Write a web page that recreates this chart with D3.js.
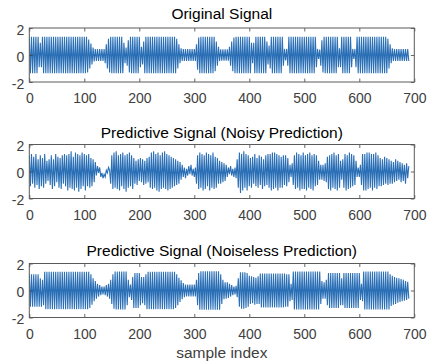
<!DOCTYPE html>
<html>
<head>
<meta charset="utf-8">
<script src="https://cdn.jsdelivr.net/npm/d3@7"></script>
<style>
  body { margin: 0; background: #fff; }
  svg { display: block; font-family: 'Liberation Sans', Arial, Helvetica, sans-serif; }
</style>
</head>
<body>
<div id="chart"></div>
<script>
// Samples are stored every 2nd index (one value per half cycle of the carrier)
const sampleStep = 2;

const xTicks = [0, 100, 200, 300, 400, 500, 600, 700];
const yTicks = [-2, 0, 2];
const panelTitles = ['Original Signal', 'Predictive Signal (Noisy Prediction)', 'Predictive Signal (Noiseless Prediction)'];

const originalSignal = [
  1.35,-1.35,1.35,-1.35,1.35,-1.35,1.35,-1.35,1.35,-0.9,
  0.9,-0.9,1.35,-1.35,1.35,-1.35,1.35,-1.35,1.35,-1.35,
  1.35,-1.35,1.35,-1.35,1.35,-1.35,1.35,-1.35,1.35,-1.35,
  1.35,-1.35,1.35,-1.35,1.35,-1.35,1.35,-1.35,1.35,-1.35,
  1.35,-1.35,1.35,-1.35,1.35,-1.35,1.35,-1.35,1.35,-1.35,
  1.35,-1.35,1.35,-1.3,1.15,-1.0,0.85,-0.7,0.55,-0.48,
  0.45,-0.45,0.45,-0.45,0.45,-0.45,0.45,-0.45,0.45,-0.6,
  0.8,-1.0,1.2,-1.3,1.35,-1.35,1.35,-1.35,1.35,-1.35,
  1.35,-1.35,1.35,-1.35,1.35,-1.35,0.9,-0.6,0.55,-0.8,
  1.1,-1.3,1.35,-1.35,1.35,-1.35,1.35,-1.35,1.35,-1.35,
  1.35,-0.9,0.6,-0.7,1.0,-1.35,1.35,-1.35,1.35,-1.35,
  1.35,-1.35,1.35,-1.35,1.35,-1.35,1.35,-1.35,1.35,-1.35,
  1.35,-1.35,1.35,-1.35,1.35,-1.35,1.35,-1.35,1.35,-1.35,
  1.35,-1.35,1.35,-1.35,1.2,-1.0,0.8,-0.6,0.5,-0.45,
  0.45,-0.45,0.45,-0.45,0.45,-0.45,0.45,-0.45,0.45,-0.45,
  0.45,-0.45,0.8,-1.1,1.3,-1.35,1.35,-1.35,1.35,-1.35,
  1.35,-1.35,1.35,-1.35,1.35,-1.35,1.35,-1.35,1.35,-1.2,
  1.0,-0.8,0.6,-0.45,0.42,-0.42,0.42,-0.42,0.42,-0.42,
  0.42,-0.42,0.6,-0.8,1.0,-1.2,1.3,-1.35,1.35,-1.35,
  1.35,-1.35,1.35,-1.35,1.35,-1.35,1.35,-1.35,1.35,-1.35,
  1.35,-1.35,0.9,-0.6,0.9,-1.35,1.35,-1.35,1.35,-1.35,
  1.35,-1.35,1.35,-1.35,1.35,-1.35,1.0,-0.7,0.7,-1.0,
  1.35,-1.35,1.35,-1.35,1.35,-1.35,1.35,-1.35,1.35,-1.35,
  1.35,-0.8,0.45,-0.4,0.45,-0.8,1.35,-1.35,1.35,-1.35,
  1.35,-1.35,1.35,-1.35,1.35,-1.35,1.35,-1.35,1.35,-1.35,
  1.35,-1.35,1.35,-1.35,1.35,-1.35,1.35,-1.35,1.35,-1.35,
  1.35,-0.9,0.45,-0.3,0.4,-0.8,1.1,-1.3,1.35,-1.35,
  1.35,-1.35,1.35,-1.35,1.35,-1.35,1.35,-1.35,1.35,-1.35,
  1.35,-0.9,0.5,-0.9,1.35,-1.35,1.35,-1.35,1.35,-1.35,
  1.35,-1.35,1.35,-0.9,0.45,-0.3,0.45,-0.9,1.35,-1.35,
  1.35,-1.35,1.35,-1.35,1.35,-1.35,1.35,-1.35,1.35,-1.35,
  1.35,-1.35,1.35,-1.35,1.35,-1.35,1.35,-1.35,1.35,-1.35,
  1.35,-1.35,1.35,-1.35,1.35,-1.35,1.2,-1.0,0.8,-0.6,
  0.5,-0.45,0.45,-0.45,0.45,-0.45,0.45,-0.45,0.45,-0.45,
  0.45,-0.45,0.45,-0.45,0.45,-0.45
];

const noisyPrediction = [
  1.2,-1.1,1.3,-0.9,1.1,-1.2,1.3,-1.0,0.9,-1.3,
  1.2,-1.1,1.0,-1.2,1.3,-0.9,0.8,-0.7,0.9,
  -1.0,1.2,-1.3,0.9,-1.1,1.3,-0.8,1.1,-1.2,1.0,-1.3,1.2,-0.9,1.3,-1.1,
  1.2,-1.4,1.3,-1.2,1.5,-1.3,1.1,-1.4,1.4,-1.2,1.3,-1.5,1.2,-1.3,1.4,-1.1,1.3,-1.4,
  1.2,-1.1,1.3,-1.2,1.0,-1.1,0.9,-0.8,0.7,
  -0.3,0.4,-0.1,0.3,-0.4,-0.1,-0.5,-0.2,-0.4,0.1,-0.1,0.3,0.1,
  -0.9,1.2,-1.3,1.4,-1.2,1.5,-1.3,1.2,-1.4,1.3,-1.1,1.4,-1.3,1.2,-1.5,1.3,-1.2,1.4,-1.1,1.2,-1.3,
  1.0,-0.9,0.8,-1.0,0.9,-0.7,1.0,-0.8,0.9,-1.0,0.8,-0.9,1.0,-0.8,1.1,
  -1.2,1.4,-1.3,1.5,-1.2,1.3,-1.4,1.4,-1.5,1.2,-1.3,1.4,-1.2,1.5,-1.3,1.3,-1.4,1.2,-1.3,1.1,-1.2,
  1.0,-1.1,0.9,-1.0,0.8,-0.9,0.7,-0.6,0.5,
  -0.4,0.3,-0.5,0.2,-0.3,0.4,-0.2,0.5,-0.3,0.2,-0.4,0.3,
  -0.9,1.2,-1.3,1.4,-1.2,1.3,-1.4,1.2,-1.3,1.4,-1.1,1.3,-1.4,1.2,-1.2,1.4,-1.3,1.1,-1.2,1.0,
  -0.9,0.8,-0.9,0.7,-0.8,0.6,-0.7,0.5,
  -0.4,0.3,-0.2,0.4,-0.3,0.2,-0.4,0.3,-0.5,
  0.9,-1.2,1.4,-1.6,1.3,-1.4,1.5,-1.2,1.3,-1.4,1.2,-1.1,
  1.0,-1.2,1.1,-0.9,1.3,-1.1,1.0,-1.2,1.2,-1.0,1.1,-1.3,0.9,-1.1,1.2,-1.0,1.3,-1.2,
  1.3,-1.4,1.4,-1.3,1.4,-1.2,1.3,-1.4,1.2,
  -1.2,1.1,-1.2,1.2,-1.0,1.2,-1.1,1.0,-0.8,
  0.5,-0.4,0.6,
  -1.0,1.2,-1.3,1.4,-1.2,1.3,-1.4,1.2,-1.3,1.4,-1.3,1.2,-1.4,1.3,-1.2,1.4,-1.3,1.2,-1.4,1.3,-1.1,1.2,-1.0,
  0.8,-0.6,0.5,-0.6,0.5,-0.7,0.6,-0.8,
  1.1,-1.3,1.2,-1.4,1.3,-1.2,1.4,-1.3,1.2,-1.4,1.3,-1.2,0.8,-0.6,0.9,-1.2,1.3,-1.4,1.2,-1.3,1.4,-1.2,1.3,-1.1,1.2,-1.0,0.8,
  -0.4,0.3,-0.4,0.5,
  -1.0,1.3,-1.4,1.3,-1.4,1.4,-1.3,1.4,-1.2,1.3,-1.4,1.3,-1.2,1.4,-1.3,1.2,-1.1,
  1.0,-1.1,0.9,-1.0,1.1,-0.9,1.0,-1.0,0.9,
  -0.9,0.8,-0.9,0.7,-0.8,0.9,-0.7,0.8,-0.6,0.7,-0.8,0.6,-0.7,0.5,-0.9,0.6,-0.5,0.4
];

const noiselessPrediction = [
  1.2,-1.2,1.2,-1.2,1.2,-1.2,1.2,-1.2,1.2,-1.2,
  0.9,-1.2,0.8,-1.1,1.38,-1.38,1.38,-1.38,1.38,-1.38,
  1.38,-1.38,1.38,-1.38,1.38,-1.38,1.38,-1.38,1.38,-1.38,
  1.38,-1.38,1.38,-1.38,1.38,-1.38,1.38,-1.38,1.38,-1.38,
  1.38,-1.38,1.38,-1.38,1.38,-1.38,1.38,-1.38,1.38,-1.38,
  1.38,-1.38,1.38,-1.38,1.38,-1.3,1.2,-1.05,0.9,-0.8,
  0.7,-0.6,0.5,-0.45,0.4,-0.35,0.3,-0.3,0.3,-0.35,
  0.4,-0.45,0.5,-0.6,0.8,-1.0,1.2,-1.35,1.4,-1.4,
  1.4,-1.4,1.4,-1.4,1.4,-1.4,1.4,-1.4,1.4,-1.1,
  0.8,-0.5,0.45,-0.7,1.0,-1.3,1.3,-1.3,1.3,-1.3,
  1.3,-1.1,1.0,-0.95,1.0,-1.1,1.2,-1.38,1.38,-1.38,
  1.38,-1.38,1.38,-1.38,1.38,-1.38,1.38,-1.38,1.38,-1.38,
  1.38,-1.38,1.38,-1.38,1.38,-1.38,1.38,-1.38,1.38,-1.38,
  1.38,-1.38,1.38,-1.3,1.2,-1.1,0.95,-0.85,0.75,-0.65,
  0.55,-0.5,0.45,-0.45,0.45,-0.45,0.45,-0.45,0.45,-0.45,
  0.45,-0.45,0.8,-1.1,1.3,-1.42,1.42,-1.42,1.42,-1.42,
  1.42,-1.42,1.42,-1.42,1.42,-1.42,1.42,-1.42,1.42,-1.42,
  1.42,-1.42,1.42,-1.42,1.2,-1.0,0.8,-0.65,0.6,-0.6,
  0.6,-0.55,0.5,-0.45,0.4,-0.35,0.3,-0.3,0.35,-0.5,
  0.9,-1.2,1.35,-1.35,1.35,-1.35,1.35,-1.3,1.3,-1.2,
  1.1,-1.0,1.05,-0.95,1.0,-1.05,0.95,-1.0,1.05,-1.0,
  1.25,-1.25,1.25,-1.25,1.25,-1.25,1.25,-1.25,1.25,-1.25,
  1.25,-1.25,1.25,-1.25,1.25,-1.25,1.25,-1.25,1.25,-1.25,
  1.25,-1.25,1.25,-1.2,1.2,-1.2,1.2,-0.8,0.5,-0.7,
  1.4,-1.4,1.4,-1.4,1.4,-1.4,1.4,-1.4,1.4,-1.4,
  1.4,-1.4,1.4,-1.4,1.4,-1.4,1.4,-1.4,1.4,-1.4,
  1.4,-1.4,1.4,-1.4,1.4,-1.0,0.7,-0.6,0.6,-0.6,
  0.8,-1.1,1.3,-1.3,1.3,-1.3,1.3,-1.3,1.3,-1.3,
  1.3,-1.3,1.3,-1.1,0.9,-1.1,1.3,-1.3,1.3,-1.3,
  1.3,-1.3,1.3,-1.3,1.3,-1.3,1.3,-1.3,1.3,-1.3,
  1.3,-0.7,0.5,-0.8,1.4,-1.4,1.4,-1.4,1.4,-1.4,
  1.4,-1.4,1.4,-1.4,1.4,-1.4,1.4,-1.4,1.4,-1.4,
  1.4,-1.4,1.4,-1.4,1.4,-1.4,1.4,-1.4,1.2,-1.15,
  1.1,-1.05,1.0,-1.0,0.95,-0.9,0.9,-0.85,0.85,-0.8,
  0.8,-0.75,0.7,-0.7,0.65,-0.6
];

const seriesList = [originalSignal, noisyPrediction, noiselessPrediction];

const width = 435, height = 364;
const plotLeft = 29.3, plotRight = 414.3;
const panelTops = [28, 144.5, 263.5];
const panelHeight = 54;
const titleBaselines = [18.5, 137.5, 256];

const svg = d3.select('#chart')
  .append('svg')
  .attr('width', width)
  .attr('height', height);

svg.append('rect')
  .attr('width', width)
  .attr('height', height)
  .attr('fill', '#fff');

const x = d3.scaleLinear().domain([0, 700]).range([plotLeft, plotRight]);

seriesList.forEach((data, k) => {
  const top = panelTops[k];
  const y = d3.scaleLinear().domain([-2, 2]).range([top + panelHeight, top]);

  const clipId = 'clip-' + k;
  svg.append('clipPath')
    .attr('id', clipId)
    .append('rect')
    .attr('x', plotLeft)
    .attr('y', top)
    .attr('width', plotRight - plotLeft)
    .attr('height', panelHeight);

  // Signal line
  const line = d3.line()
    .x((d, i) => x(i * sampleStep))
    .y(d => y(d));

  svg.append('path')
    .datum(data)
    .attr('clip-path', `url(#${clipId})`)
    .attr('fill', 'none')
    .attr('stroke', '#2a6fb6')
    .attr('stroke-width', 1.1)
    .attr('d', line);

  // Axes: ticks pointing inward on all four sides
  const tickLen = 3.5;
  const bottomAxis = svg.append('g')
    .attr('transform', `translate(0,${top + panelHeight})`)
    .call(d3.axisBottom(x).tickValues(xTicks).tickSizeInner(-tickLen).tickSizeOuter(0).tickPadding(10));
  const topAxis = svg.append('g')
    .attr('transform', `translate(0,${top})`)
    .call(d3.axisTop(x).tickValues(xTicks).tickSizeInner(-tickLen).tickSizeOuter(0).tickFormat(''));
  const leftAxis = svg.append('g')
    .attr('transform', `translate(${plotLeft},0)`)
    .call(d3.axisLeft(y).tickValues(yTicks).tickFormat(d3.format('d')).tickSizeInner(-tickLen).tickSizeOuter(0).tickPadding(5));
  const rightAxis = svg.append('g')
    .attr('transform', `translate(${plotRight},0)`)
    .call(d3.axisRight(y).tickValues(yTicks).tickSizeInner(-tickLen).tickSizeOuter(0).tickFormat(''));

  [bottomAxis, topAxis, leftAxis, rightAxis].forEach(g => {
    g.select('.domain').remove();
    g.selectAll('line').attr('stroke', '#404040').attr('stroke-width', 0.8);
    g.selectAll('text')
      .attr('fill', '#404040')
      .style('font-size', '14px')
      .style('font-family', "'Liberation Sans', Arial, sans-serif");
  });
  bottomAxis.selectAll('text').attr('dy', null).attr('y', 21);
  leftAxis.selectAll('text').attr('dy', '0.45em').text(d => d < 0 ? '-' + Math.abs(d) : d);

  // Box
  svg.append('rect')
    .attr('x', plotLeft)
    .attr('y', top)
    .attr('width', plotRight - plotLeft)
    .attr('height', panelHeight)
    .attr('fill', 'none')
    .attr('stroke', '#5a5a5a')
    .attr('stroke-width', 1);

  // Title
  svg.append('text')
    .attr('x', (plotLeft + plotRight) / 2)
    .attr('y', titleBaselines[k])
    .attr('text-anchor', 'middle')
    .style('font-size', '15.5px')
    .style('fill', '#000')
    .text(panelTitles[k]);
});

// x label under the last panel
svg.append('text')
  .attr('x', (plotLeft + plotRight) / 2)
  .attr('y', 358)
  .attr('text-anchor', 'middle')
  .style('font-size', '15.5px')
  .style('fill', '#404040')
  .text('sample index');
</script>
</body>
</html>
